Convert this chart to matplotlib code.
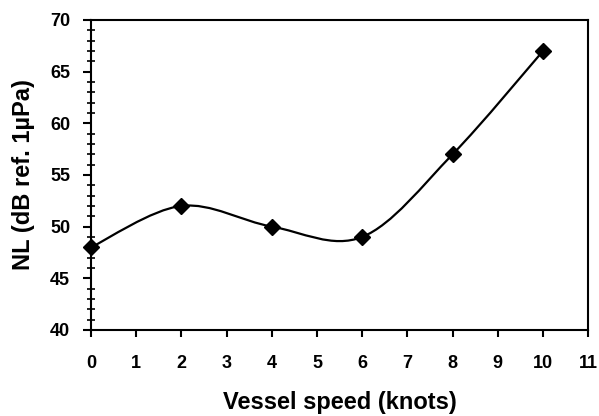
import numpy as np
import matplotlib
matplotlib.use('Agg')
import matplotlib.pyplot as plt
from matplotlib.path import Path
from matplotlib.patches import PathPatch
from matplotlib.ticker import MultipleLocator

plt.rcParams['font.family'] = ['Liberation Sans', 'DejaVu Sans']
plt.rcParams['font.weight'] = 'bold'

speed = [0, 2, 4, 6, 8, 10]
noise_level = [48, 52, 50, 49, 57, 67]
x_ticks = list(range(0, 12))
y_ticks = [40, 45, 50, 55, 60, 65, 70]


def smooth_path(xs, ys, t=1 / 6):
    # Excel style smoothed line: cubic bezier segments through every point
    pts = np.column_stack([xs, ys]).astype(float)
    n = len(pts)
    verts = [pts[0]]
    codes = [Path.MOVETO]
    for i in range(n - 1):
        p0 = pts[max(i - 1, 0)]
        p1 = pts[i]
        p2 = pts[i + 1]
        p3 = pts[min(i + 2, n - 1)]
        c1 = p1 + (p2 - p0) * t
        c2 = p2 - (p3 - p1) * t
        verts += [c1, c2, p2]
        codes += [Path.CURVE4] * 3
    return Path(verts, codes)


fig = plt.figure(figsize=(5.99, 4.16), dpi=100)
ax = fig.add_axes([0.152, 0.207, 0.830, 0.745])

ax.add_patch(PathPatch(smooth_path(speed, noise_level), fill=False,
                       edgecolor='black', lw=1.6, zorder=2))
ax.plot(speed, noise_level, linestyle='none', marker='D', markersize=8.5,
        color='black', zorder=3, clip_on=False)

ax.set_xlim(0, 11)
ax.set_ylim(40, 70)
ax.set_xticks(x_ticks, [str(v) for v in x_ticks], fontsize=13, fontweight='bold')
ax.set_yticks(y_ticks, [str(v) for v in y_ticks], fontsize=13, fontweight='bold')
ax.yaxis.set_minor_locator(MultipleLocator(1))

ax.tick_params(axis='x', which='major', direction='out', length=5,
               width=1.5, pad=13)
ax.tick_params(axis='y', which='major', direction='out', length=6,
               width=1.5, pad=9)
ax.tick_params(axis='y', which='minor', direction='inout', length=6, width=1.2)
for s in ax.spines.values():
    s.set_linewidth(1.5)

ax.set_xlabel('Vessel speed (knots)', fontsize=17, fontweight='bold', labelpad=14)
ax.set_ylabel('NL (dB ref. 1\u00b5Pa)', fontsize=17, fontweight='bold', labelpad=11)

fig.savefig('out.png', dpi=100)
